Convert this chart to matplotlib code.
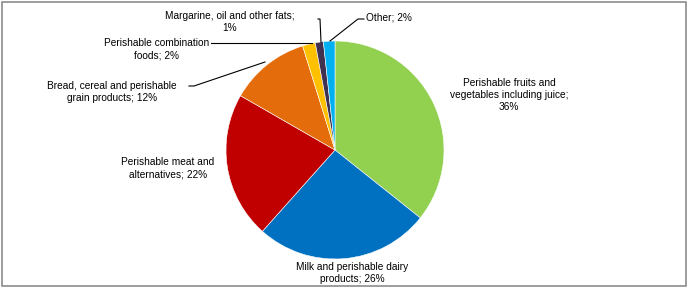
import matplotlib.pyplot as plt
from matplotlib.patches import Rectangle

plt.rcParams["font.family"] = ["Liberation Sans", "DejaVu Sans"]

categories = [
    "Perishable fruits and\nvegetables including juice;\n36%",
    "Milk and perishable dairy\nproducts; 26%",
    "Perishable meat and\nalternatives; 22%",
    "Bread, cereal and perishable\ngrain products; 12%",
    "Perishable combination\nfoods; 2%",
    "Margarine, oil and other fats;\n1%",
    "Other; 2%",
]
shares = [35.7, 25.9, 21.7, 11.9, 1.9, 1.2, 1.7]
colors = ["#92D050", "#0070C0", "#C00000", "#E46C0A", "#FFC000", "#403151", "#00B0F0"]

W, H = 688, 289


def py(y):
    # pixel row (from top) -> axes y
    return H - y


fig = plt.figure(figsize=(W / 100, H / 100), dpi=100)
ax = fig.add_axes([0, 0, 1, 1])
ax.pie(shares, colors=colors, startangle=90, counterclock=False,
       center=(335, py(150)), radius=109,
       wedgeprops=dict(edgecolor="white", linewidth=0.4))
ax.set_xlim(0, W)
ax.set_ylim(0, H)
ax.set_aspect("equal")
ax.axis("off")

fs = 7.3
ls = 1.3
# direct labels
ax.text(509, py(95), categories[0], ha="center", va="center", fontsize=fs, linespacing=ls)
ax.text(352, py(273), categories[1], ha="center", va="center", fontsize=fs, linespacing=ls)
ax.text(168, py(168), categories[2], ha="center", va="center", fontsize=fs, linespacing=ls)
ax.text(112, py(92), categories[3], ha="center", va="center", fontsize=fs, linespacing=ls)
ax.text(157, py(49), categories[4], ha="center", va="center", fontsize=fs, linespacing=ls)
ax.text(230, py(22), categories[5], ha="center", va="center", fontsize=fs, linespacing=ls)
ax.text(366, py(18), categories[6], ha="left", va="center", fontsize=fs)

# leader lines
lc = dict(color="black", linewidth=0.8)
ax.plot([189, 194, 265], [py(86), py(86), py(62)], **lc)
ax.plot([211, 312], [py(43), py(43)], **lc)
ax.plot([318, 320, 321], [py(19), py(19), py(42)], **lc)
ax.plot([330, 358, 364], [py(41), py(19), py(19)], **lc)

fig.add_artist(Rectangle((1.5 / W, 3.5 / H), (684 / W), (284 / H), transform=fig.transFigure,
                         fill=False, edgecolor="#8c8c8c", linewidth=1.2))

fig.savefig("out.png", dpi=100)
